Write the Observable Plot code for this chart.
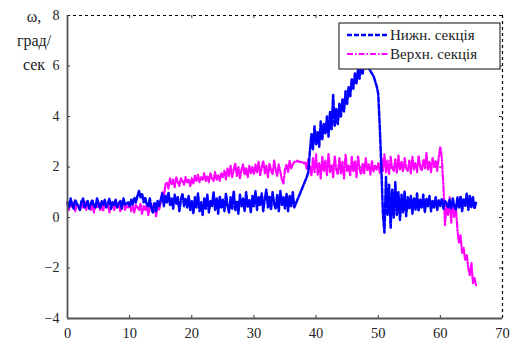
<!DOCTYPE html>
<html><head><meta charset="utf-8">
<script src="https://cdn.jsdelivr.net/npm/d3@7"></script>
<script src="https://cdn.jsdelivr.net/npm/@observablehq/plot@0.6"></script>
<style>
body{margin:0;background:#fff;}
#chart svg{display:block;}
#chart svg, #chart svg text, #chart svg tspan { font-family: "Liberation Serif", "Times New Roman", "DejaVu Serif", serif !important; }
</style>
</head><body><div id="chart"></div>
<script>
// sampling step (s) of both series, starting at t = 0
const dt = 0.25;

// "Нижн. секція" (lower section), ω in deg/s
const lowerValues = [
  0.6,0.4,0.75,0.5,0.35,0.7,0.55,0.45,0.3,0.65,
  0.75,0.4,0.5,0.65,0.35,0.55,0.7,0.45,0.4,0.75,
  0.55,0.35,0.65,0.5,0.7,0.4,0.55,0.75,0.35,0.6,
  0.5,0.7,0.4,0.55,0.65,0.35,0.75,0.5,0.55,0.6,
  0.45,0.7,0.5,0.8,0.6,0.85,1.05,0.8,0.95,0.6,
  0.8,0.5,0.45,0.75,0.35,0.2,0.6,0.25,0.65,0.45,
  0.7,0.95,0.45,0.85,0.6,1.0,0.5,0.75,0.35,0.9,0.55,0.8,0.25,0.7,0.95,0.45,0.75,0.4,0.85,0.3,
  0.65,0.15,0.8,0.4,0.95,0.25,0.6,0.1,0.75,0.35,0.9,0.2,0.65,0.45,1.0,0.3,0.75,0.15,0.85,0.4,
  0.7,0.25,0.95,0.45,0.2,0.8,0.35,1.05,0.3,0.65,0.15,0.9,0.45,0.75,0.25,1.0,0.4,0.7,0.2,0.85,
  0.45,1.05,0.3,0.8,0.5,0.95,0.25,0.75,1.1,0.4,0.85,0.3,1.0,0.55,0.35,0.9,0.25,1.05,0.5,0.8,
  0.35,0.95,0.25,0.85,0.45,1.0,
  0.4,0.55,0.7,0.85,1.0,1.15,1.3,1.45,1.6,1.8,
  2.6,3.3,2.7,3.6,2.9,3.4,2.8,3.8,3.1,3.7,3.3,4.0,3.2,4.2,3.5,4.85,3.6,4.3,3.7,4.5,
  4.0,4.7,4.2,5.0,4.5,5.2,4.8,5.5,5.1,5.7,5.3,5.9,5.5,6.1,5.7,6.2,
  5.9,6.1,5.9,5.8,5.7,5.6,5.4,5.2,4.9,3.6,2.0,0.2,
  -0.6,1.6,0.1,1.3,-0.4,1.1,0.0,1.4,
  0.1,1.0,-0.1,0.9,0.2,1.05,0.05,0.8,
  0.35,0.85,0.15,0.75,0.3,0.95,0.25,0.7,0.4,0.9,
  0.2,0.75,0.45,0.85,0.25,0.65,0.4,0.8,0.3,0.7,
  0.45,0.75,0.35,0.65,0.55,0.4,0.7,0.35,0.75,0.45,
  0.3,0.8,0.4,0.85,0.25,0.75,0.45,0.95,0.3,0.85,
  0.4,0.8,0.35,0.6
];

// "Верхн. секція" (upper section), ω in deg/s
const upperValues = [
  0.5,0.3,0.6,0.4,0.6,0.25,0.5,0.45,0.3,0.6,
  0.4,0.65,0.3,0.5,0.45,0.3,0.55,0.2,0.5,0.4,
  0.6,0.3,0.45,0.25,0.6,0.4,0.5,0.2,0.45,0.6,
  0.3,0.5,0.4,0.6,0.25,0.45,0.65,0.3,0.5,0.4,
  0.55,0.25,0.45,0.2,0.5,0.4,0.3,0.55,0.15,0.45,
  0.3,0.5,0.1,0.4,0.55,0.2,0.45,0.05,0.5,0.3,
  0.6,1.0,0.8,1.3,
  1.4,1.15,1.55,1.3,1.5,1.2,1.6,1.4,1.25,1.55,1.45,1.3,1.6,1.4,1.5,1.25,
  1.55,1.35,1.65,1.45,1.7,1.4,1.6,1.5,1.75,1.45,1.65,1.4,1.75,1.55,1.45,1.8,1.5,1.7,1.45,1.75,
  1.6,1.85,1.5,1.95,1.65,2.05,1.6,1.9,2.15,1.65,2.0,1.55,1.9,2.1,1.7,1.95,1.6,2.05,1.75,2.0,
  1.7,2.1,1.8,2.2,1.65,2.0,2.25,1.75,2.05,1.6,2.15,1.85,1.7,2.25,1.9,1.65,2.1,1.8,1.5,1.35,1.9,2.1,1.8,2.25,1.95,2.1,
  2.2,2.2,2.25,2.2,2.2,2.2,2.15,2.2,1.9,2.3,
  2.0,1.65,2.35,1.8,2.5,1.7,2.15,1.55,2.4,1.85,
  2.25,1.65,2.55,1.8,2.1,1.6,2.45,1.9,1.7,2.35,
  1.75,2.2,1.55,2.5,1.85,2.05,1.65,2.4,1.8,2.25,
  1.6,2.45,1.9,1.7,2.15,1.75,2.35,1.85,2.1,1.7,
  2.25,1.8,2.05,1.9,
  2.15,1.75,2.35,1.85,2.5,1.8,2.25,1.7,2.4,1.95,
  1.85,2.3,1.75,2.45,1.9,2.2,1.8,2.35,1.95,1.85,
  2.25,1.75,2.4,1.9,2.15,1.8,2.45,2.0,1.85,2.3,
  1.95,2.55,1.9,2.2,1.8,2.35,2.0,2.25,1.85,2.4,
  2.8,2.3,1.2,-0.3,
  0.6,0.1,0.8,-0.2,0.5,0.0,
  0.4,-0.5,-1.0,-0.7,-1.4,-1.2,-1.7,-1.5,-2.0,-2.3,-1.8,-2.6,-2.4,-2.7
];

// faint black dotted level line seen under the upper series
const guideT = [47, 60.3];
const guideV = [2.0, 2.0];

const seriesNames = ["Нижн. секція", "Верхн. секція"];
const seriesColors = ["#0000ff", "#ff00ff"];
const xTicks = [0, 10, 20, 30, 40, 50, 60, 70];
const yTicks = [-4, -2, 0, 2, 4, 6, 8];
const yTitle = ["ω,", "град/", "сек"];

const lower = lowerValues.map((v, i) => ({t: i * dt, v}));
const upper = upperValues.map((v, i) => ({t: i * dt, v}));
const guide = guideT.map((t, i) => ({t, v: guideV[i]}));

const W = 512, H = 345, mt = 15, mb = 27, ml = 67, mr = 10;
const fh = H - mt - mb, fw = W - ml - mr;
const serif = "Liberation Serif, Times New Roman, DejaVu Serif, serif";

const chart = Plot.plot({
  width: W, height: H,
  marginTop: mt, marginBottom: mb, marginLeft: ml, marginRight: mr,
  style: {fontFamily: serif, background: "#fff", color: "#222"},
  x: {domain: [0, 70]},
  y: {domain: [-4, 8]},
  marks: [
    Plot.tickX(xTicks, {x: d => d, insetTop: fh - 3, stroke: "#333", strokeWidth: 1}),
    Plot.tickX(xTicks, {x: d => d, insetBottom: fh - 3, stroke: "#333", strokeWidth: 1}),
    Plot.tickY(yTicks, {y: d => d, insetRight: fw - 3, stroke: "#333", strokeWidth: 1}),
    Plot.tickY(yTicks, {y: d => d, insetLeft: fw - 3, stroke: "#333", strokeWidth: 1}),
    Plot.ruleY([8], {stroke: "#000", strokeWidth: 1.2, strokeDasharray: "3,3"}),
    Plot.ruleX([70], {stroke: "#000", strokeWidth: 1.2, strokeDasharray: "3,3"}),
    Plot.line(guide, {x: "t", y: "v", stroke: "#222", strokeWidth: 1, strokeDasharray: "2,3"}),
    Plot.line(upper, {x: "t", y: "v", stroke: seriesColors[1], strokeWidth: 2.2, strokeDasharray: "6,2,1.5,2"}),
    Plot.line(lower, {x: "t", y: "v", stroke: seriesColors[0], strokeWidth: 2.5, strokeDasharray: "5,2"}),
    Plot.ruleX([0], {stroke: "#555", strokeWidth: 1.8}),
    Plot.ruleY([-4], {stroke: "#555", strokeWidth: 1.8}),
    Plot.axisX(xTicks, {tickSize: 0, tickPadding: 9, fontSize: 14.5, label: null, letterSpacing: 1}),
    Plot.axisY(yTicks, {tickSize: 0, tickPadding: 8, fontSize: 14, label: null})
  ]
});

document.getElementById("chart").appendChild(chart);

const svg = d3.select(chart);
const title = svg.append("text")
  .attr("font-family", serif).attr("font-size", 16).attr("fill", "#222")
  .attr("text-anchor", "middle");
yTitle.forEach((s, i) => title.append("tspan").attr("x", 34).attr("y", 22 + i * 24).text(s));

const lg = svg.append("g").attr("text-anchor", "start");
lg.append("rect").attr("x", 339).attr("y", 23).attr("width", 161).attr("height", 46)
  .attr("fill", "#fff").attr("stroke", "#333").attr("stroke-width", 1.2);
const dashes = ["5,2", "6,2,1.5,2"];
seriesNames.forEach((name, i) => {
  const y = 35 + i * 19;
  lg.append("line").attr("x1", 347).attr("x2", 388).attr("y1", y).attr("y2", y)
    .attr("stroke", seriesColors[i]).attr("stroke-width", i === 0 ? 2.6 : 2).attr("stroke-dasharray", dashes[i]);
  lg.append("text").attr("x", 390).attr("y", y + 5).attr("text-anchor", "start").attr("font-family", serif)
    .attr("font-size", 15).attr("fill", "#222").text(name);
});
</script>
</body></html>
